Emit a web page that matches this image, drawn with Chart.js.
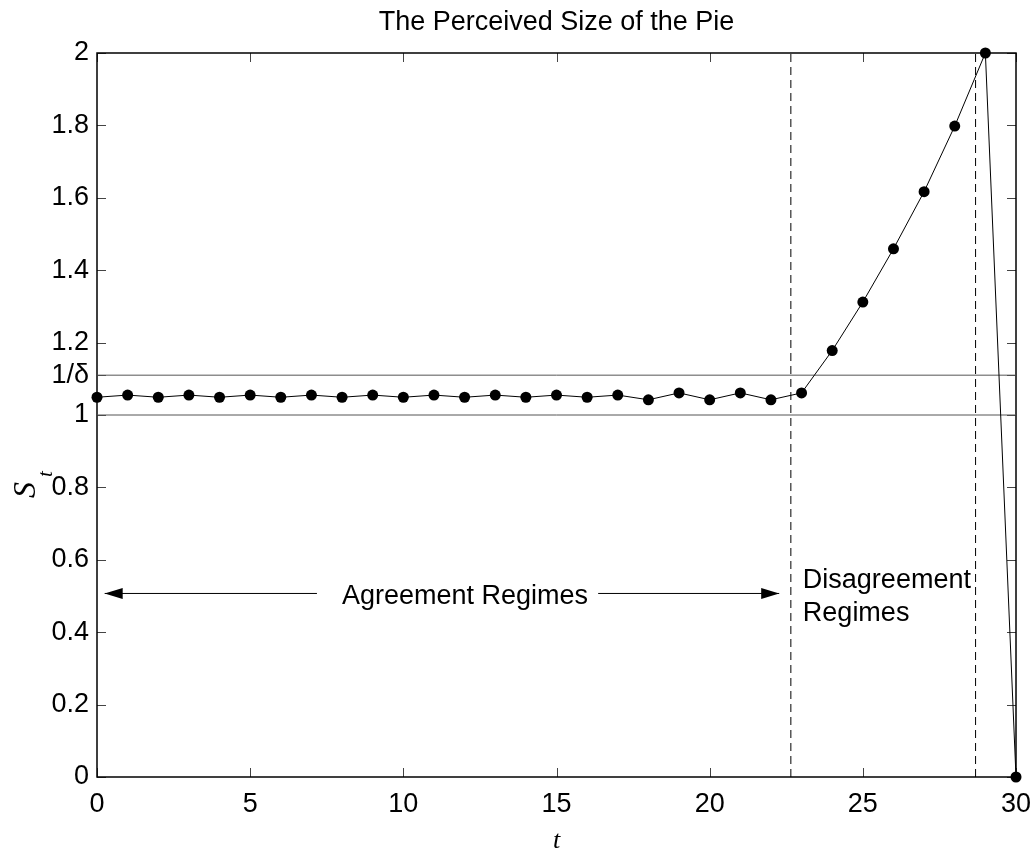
<!DOCTYPE html>
<html>
<head>
<meta charset="utf-8">
<script src="https://cdn.jsdelivr.net/npm/chart.js@4/dist/chart.umd.min.js"></script>
<style>
  html, body { margin: 0; padding: 0; background: #fff; }
  #wrap { width: 1035px; height: 853px; }
</style>
</head>
<body>
<div id="wrap"><canvas id="c" width="1035" height="853"></canvas></div>
<script>
// ---- data ----
const tValues = [0,1,2,3,4,5,6,7,8,9,10,11,12,13,14,15,16,17,18,19,20,21,22,23,24,25,26,27,28,29,30];
const sValues = [1.049,1.055,1.049,1.055,1.049,1.055,1.049,1.055,1.049,1.055,
                 1.049,1.055,1.049,1.055,1.049,1.055,1.049,1.055,1.042,1.061,
                 1.042,1.061,1.042,1.061,1.178,1.312,1.459,1.617,1.798,2.000,0];
const oneLevel = 1;
const invDelta = 1.11;
const regimeBoundaries = [22.65, 28.68];
const xTickValues = [0,5,10,15,20,25,30];
const xTickLabels = ['0','5','10','15','20','25','30'];
const yTickValues = [0,0.2,0.4,0.6,0.8,1,1.2,1.4,1.6,1.8,2, invDelta];
const yTickLabels = ['0','0.2','0.4','0.6','0.8','1','1.2','1.4','1.6','1.8','2','1/δ'];
const titleText = 'The Perceived Size of the Pie';
const xLabel = 't';
const yLabelMain = 'S';
const yLabelSub = 't';
const agreementText = 'Agreement Regimes';
const disagreementLines = ['Disagreement', 'Regimes'];
const arrowLevel = 0.507;
const leftArrow = [7.18, 0.25];   // from, tip
const rightArrow = [16.36, 22.27]; // from, tip
const xRange = [0, 30];
const yRange = [0, 2];

// ---- chart ----
const series = tValues.map((t, i) => ({ x: t, y: sValues[i] }));
const SANS = '"Liberation Sans", Arial, Helvetica, sans-serif';
const SERIF = '"Liberation Serif", "Times New Roman", serif';
const FS = 27;

const decor = {
  id: 'decor',
  beforeDatasetsDraw(chart) {
    const { ctx, chartArea: a, scales: { x, y } } = chart;
    ctx.save();
    ctx.strokeStyle = '#444';
    ctx.lineWidth = 1;
    const L = 9;
    ctx.beginPath();
    xTickValues.forEach(v => {
      const px = Math.round(x.getPixelForValue(v)) + 0.5;
      ctx.moveTo(px, a.bottom); ctx.lineTo(px, a.bottom - L);
      ctx.moveTo(px, a.top); ctx.lineTo(px, a.top + L);
    });
    yTickValues.forEach(v => {
      const py = Math.round(y.getPixelForValue(v)) + 0.5;
      ctx.moveTo(a.left, py); ctx.lineTo(a.left + L, py);
      ctx.moveTo(a.right, py); ctx.lineTo(a.right - L, py);
    });
    ctx.stroke();
    ctx.strokeStyle = '#000';
    ctx.lineWidth = 1.5;
    ctx.strokeRect(a.left, a.top, a.right - a.left, a.bottom - a.top);
    ctx.restore();
  },
  afterDraw(chart) {
    const { ctx, chartArea: a, scales: { x, y } } = chart;
    ctx.save();
    ctx.fillStyle = '#000';
    ctx.font = FS + 'px ' + SANS;
    ctx.textAlign = 'center';
    ctx.textBaseline = 'alphabetic';
    ctx.fillText(titleText, (a.left + a.right) / 2, 30);
    ctx.font = 'italic 26px ' + SERIF;
    ctx.fillText(xLabel, (a.left + a.right) / 2, 848);
    ctx.save();
    ctx.translate(35, 498);
    ctx.rotate(-Math.PI / 2);
    ctx.textAlign = 'left';
    ctx.font = 'italic 32px ' + SERIF;
    ctx.fillText(yLabelMain, 0, 0);
    ctx.font = 'italic 21px ' + SERIF;
    ctx.fillText(yLabelSub, 21, 17);
    ctx.restore();
    const ay = y.getPixelForValue(arrowLevel);
    const head = (tipX, dir) => {
      ctx.beginPath();
      ctx.moveTo(tipX, ay);
      ctx.lineTo(tipX - dir * 18, ay - 5.5);
      ctx.lineTo(tipX - dir * 18, ay + 5.5);
      ctx.closePath();
      ctx.fill();
    };
    head(x.getPixelForValue(leftArrow[1]), -1);
    head(x.getPixelForValue(rightArrow[1]), 1);
    ctx.font = FS + 'px ' + SANS;
    ctx.textAlign = 'left';
    ctx.fillText(agreementText, x.getPixelForValue(leftArrow[0]) + 25, ay + 11);
    ctx.fillText(disagreementLines[0], x.getPixelForValue(regimeBoundaries[0]) + 12, y.getPixelForValue(0.522));
    ctx.fillText(disagreementLines[1], x.getPixelForValue(regimeBoundaries[0]) + 12, y.getPixelForValue(0.430));
    ctx.restore();
  }
};

new Chart(document.getElementById('c'), {
  type: 'scatter',
  data: {
    datasets: [
      { data: series, showLine: true, borderColor: '#000', borderWidth: 1,
        pointRadius: 5.5, pointHoverRadius: 5.5, pointBackgroundColor: '#000', pointBorderWidth: 0,
        clip: false, tension: 0 },
      { data: [{x: xRange[0], y: oneLevel}, {x: xRange[1], y: oneLevel}], showLine: true,
        borderColor: '#555', borderWidth: 1, pointRadius: 0 },
      { data: [{x: xRange[0], y: invDelta}, {x: xRange[1], y: invDelta}], showLine: true,
        borderColor: '#555', borderWidth: 1, pointRadius: 0 },
      { data: [{x: regimeBoundaries[0], y: yRange[0]}, {x: regimeBoundaries[0], y: yRange[1]}], showLine: true,
        borderColor: '#000', borderWidth: 1, borderDash: [8, 5], pointRadius: 0 },
      { data: [{x: regimeBoundaries[1], y: yRange[0]}, {x: regimeBoundaries[1], y: yRange[1]}], showLine: true,
        borderColor: '#000', borderWidth: 1, borderDash: [8, 5], pointRadius: 0 },
      { data: [{x: leftArrow[0], y: arrowLevel}, {x: leftArrow[1], y: arrowLevel}], showLine: true,
        borderColor: '#000', borderWidth: 1, pointRadius: 0 },
      { data: [{x: rightArrow[0], y: arrowLevel}, {x: rightArrow[1], y: arrowLevel}], showLine: true,
        borderColor: '#000', borderWidth: 1, pointRadius: 0 }
    ]
  },
  options: {
    responsive: false,
    animation: false,
    events: [],
    layout: { padding: { top: 53, right: 19, left: 0, bottom: 0 } },
    plugins: { legend: { display: false }, tooltip: { enabled: false }, title: { display: false } },
    scales: {
      x: {
        type: 'linear', min: xRange[0], max: xRange[1],
        grid: { display: false, drawTicks: false },
        border: { display: false },
        afterBuildTicks: s => { s.ticks = xTickValues.map(v => ({ value: v })); },
        afterFit: s => { s.height = 76; s.paddingLeft = 0; s.paddingRight = 0; },
        ticks: {
          autoSkip: false, maxRotation: 0, padding: 11, color: '#000',
          font: { family: SANS, size: FS },
          callback: v => xTickLabels[xTickValues.indexOf(v)]
        }
      },
      y: {
        type: 'linear', min: yRange[0], max: yRange[1],
        grid: { display: false, drawTicks: false },
        border: { display: false },
        afterBuildTicks: s => { s.ticks = yTickValues.map(v => ({ value: v })); },
        afterFit: s => { s.width = 97; s.paddingTop = 0; s.paddingBottom = 0; },
        ticks: {
          autoSkip: false, padding: 8, color: '#000',
          font: { family: SANS, size: FS },
          callback: v => yTickLabels[yTickValues.indexOf(v)]
        }
      }
    }
  },
  plugins: [decor]
});
</script>
</body>
</html>
